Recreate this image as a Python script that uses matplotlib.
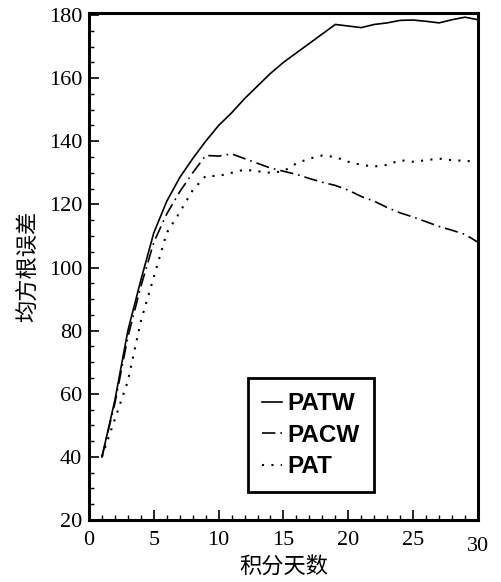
import matplotlib
matplotlib.use("Agg")
import matplotlib.pyplot as plt
from matplotlib.ticker import MultipleLocator
from matplotlib.transforms import ScaledTranslation

# integration days
days = [1, 2, 3, 4, 5, 6, 7, 8, 9, 10, 11, 12, 13, 14, 15,
        16, 17, 18, 19, 20, 21, 22, 23, 24, 25, 26, 27, 28, 29, 30]

patw = [40, 58, 80, 96, 111, 121, 128.5, 134.5, 140, 145, 149, 153.5, 157.5, 161.5, 165,
        168, 171, 174, 177, 176.5, 176, 177, 177.5, 178.3, 178.4, 178, 177.5, 178.5, 179.3, 178.5]

pacw = [40, 57, 78, 94, 108, 117, 124, 130, 135.5, 135.3, 136, 134.5, 133, 131.5, 130.5,
        129.5, 128.2, 127, 126, 124.5, 122.5, 121, 119, 117.3, 116, 114.5, 113, 111.8, 110.5, 108]

pat = [40, 52, 64, 83, 97, 111, 117.5, 124.5, 129, 129, 130, 131, 130.5, 130, 130.5,
       133, 134.5, 135.5, 135, 133.5, 132.5, 132, 132.5, 134, 133.5, 134, 134.5, 134, 133.8, 133.5]

xticks = [0, 5, 10, 15, 20, 25, 30]
yticks = [20, 40, 60, 80, 100, 120, 140, 160, 180]

fig = plt.figure(figsize=(5.01, 5.82), dpi=100)
ax = fig.add_axes([0.1776, 0.1065, 0.7764, 0.871])

ax.plot(days, patw, color="black", lw=1.2, linestyle="-", label="PATW")
ax.plot(days, pacw, color="black", lw=1.2, linestyle=(0, (8, 3, 1, 3)), label="PACW")
ax.plot(days, pat, color="black", lw=1.5, linestyle=(0, (1, 3.5)), label="PAT")

ax.set_xlim(0, 30)
ax.set_ylim(20, 180.6)
ax.set_xticks(xticks)
ax.set_yticks(yticks)
ax.xaxis.set_minor_locator(MultipleLocator(1))
ax.yaxis.set_minor_locator(MultipleLocator(5))
ax.tick_params(which="both", direction="in", top=False, right=False)
ax.tick_params(which="major", length=7, width=1.2)
ax.tick_params(axis="x", which="major", pad=8)
ax.tick_params(axis="y", which="major", pad=5)
ax.tick_params(which="minor", length=3.5, width=1)

for s in ax.spines.values():
    s.set_linewidth(2.2)

for lab in ax.get_xticklabels() + ax.get_yticklabels():
    lab.set_fontfamily("Liberation Serif")
    lab.set_fontsize(16)

# the "30" label sits a bit lower in the original
xl = ax.get_xticklabels()
xl[-1].set_transform(xl[-1].get_transform() + ScaledTranslation(0, -6 / 100, fig.dpi_scale_trans))

ax.set_xlabel("积分天数", fontsize=16, family=["Noto Sans CJK SC", "DejaVu Sans"], labelpad=0)
ax.set_ylabel("均方根误差", fontsize=16, family=["Noto Sans CJK SC", "DejaVu Sans"], labelpad=6)

leg = ax.legend(loc="lower left", bbox_to_anchor=(0.408, 0.055), fancybox=False,
                edgecolor="black", handlelength=0.85, handletextpad=0.2,
                labelspacing=0.35, borderpad=0.58, borderaxespad=0,
                prop={"family": "Liberation Sans", "weight": "bold", "size": 17.5})
leg.get_frame().set_linewidth(2)
leg.get_frame().set_alpha(1)

fig.savefig("out.png", dpi=100)
